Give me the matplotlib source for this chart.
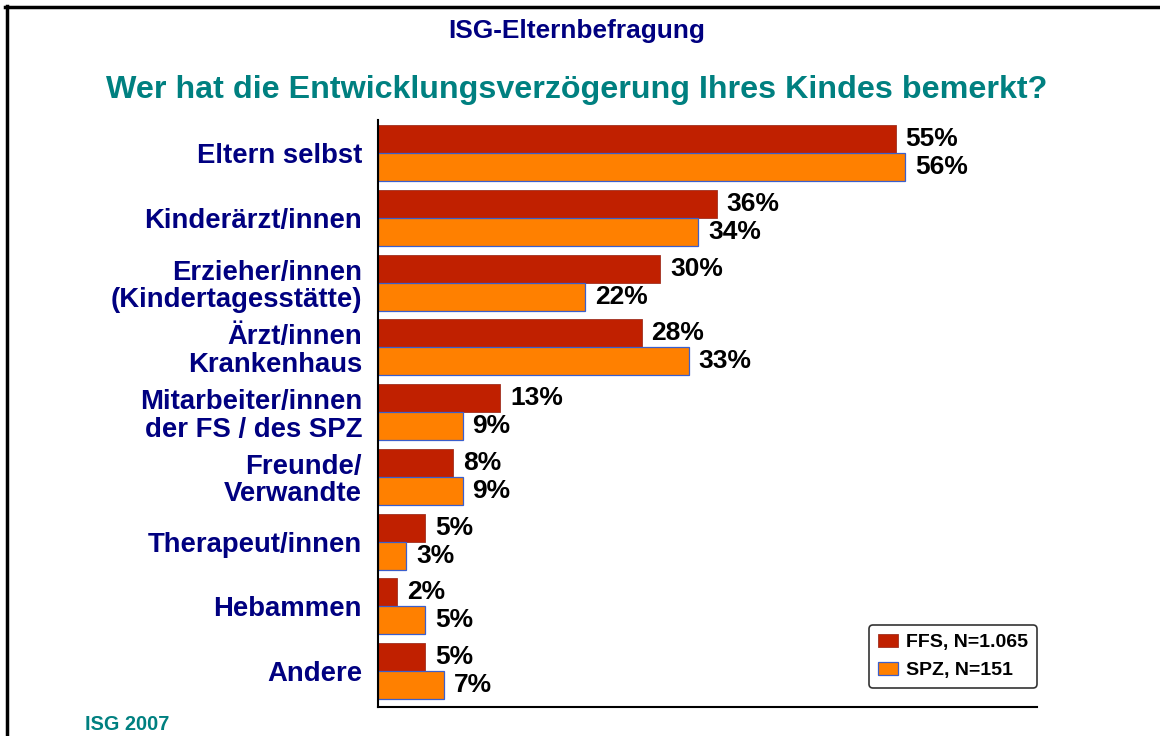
import matplotlib

matplotlib.use("Agg")

import matplotlib.pyplot as plt
from matplotlib.lines import Line2D

categories = [
    "Eltern selbst",
    "Kinderärzt/innen",
    "Erzieher/innen\n(Kindertagesstätte)",
    "Ärzt/innen\nKrankenhaus",
    "Mitarbeiter/innen\nder FS / des SPZ",
    "Freunde/\nVerwandte",
    "Therapeut/innen",
    "Hebammen",
    "Andere",
]
ffs_values = [55, 36, 30, 28, 13, 8, 5, 2, 5]
spz_values = [56, 34, 22, 33, 9, 9, 3, 5, 7]
series_labels = ["FFS, N=1.065", "SPZ, N=151"]

RED = "#c02000"
ORANGE = "#ff8000"
NAVY = "#000080"
TEAL = "#008080"

plt.rcParams["font.family"] = ["Liberation Sans", "DejaVu Sans"]

W, H = 1160, 736
fig = plt.figure(figsize=(W / 100, H / 100), dpi=100)
ax = fig.add_axes([378 / W, 1 - 707 / H, (1037 - 378) / W, (707 - 120) / H])

bar_h = 0.4324
ys = list(range(len(categories)))
ax.barh([y - bar_h / 2 for y in ys], ffs_values, height=bar_h, color=RED,
        edgecolor="#a03020", linewidth=0.6, label=series_labels[0])
ax.barh([y + bar_h / 2 for y in ys], spz_values, height=bar_h, color=ORANGE,
        edgecolor="#3a5fcd", linewidth=0.9, label=series_labels[1])

for y, v in zip(ys, ffs_values):
    ax.text(v + 1.05, y - bar_h / 2, f"{v}%", va="center", ha="left",
            fontsize=19, fontweight="bold", color="black")
for y, v in zip(ys, spz_values):
    ax.text(v + 1.05, y + bar_h / 2, f"{v}%", va="center", ha="left",
            fontsize=19, fontweight="bold", color="black")

ax.set_xlim(0, 70)
ax.set_ylim(8.556, -0.51)
ax.set_yticks(ys)
ax.set_yticklabels(categories, fontsize=19.8, fontweight="bold", color=NAVY,
                   linespacing=1.08)
ax.tick_params(axis="y", length=0, pad=11.5)
ax.set_xticks([])
for s in ["top", "right"]:
    ax.spines[s].set_visible(False)
ax.spines["left"].set_linewidth(1.5)
ax.spines["bottom"].set_linewidth(1.5)

leg = ax.legend(loc="lower right", bbox_to_anchor=(1.0, 0.032), frameon=True,
                fancybox=True, edgecolor="black", borderaxespad=0,
                prop={"weight": "bold", "size": 14}, handlelength=1.0,
                handleheight=0.65, handletextpad=0.45, labelspacing=0.55,
                borderpad=0.45)
leg.get_frame().set_linewidth(1.2)

fig.text(577 / W, 1 - 31 / H, "ISG-Elternbefragung", ha="center", va="center",
         fontsize=18.9, fontweight="bold", color=NAVY)
fig.text(577 / W, 1 - 90 / H, "Wer hat die Entwicklungsverzögerung Ihres Kindes bemerkt?",
         ha="center", va="center", fontsize=23.2, fontweight="bold", color=TEAL)
fig.text(85 / W, 1 - 725 / H, "ISG 2007", ha="left", va="center",
         fontsize=14.3, fontweight="bold", color=TEAL)

# frame lines at top and left
fig.add_artist(Line2D([5 / W, 1], [1 - 7 / H, 1 - 7 / H], color="black", linewidth=2.5,
                      transform=fig.transFigure))
fig.add_artist(Line2D([7 / W, 7 / W], [0, 1 - 6 / H], color="black", linewidth=2.5,
                      transform=fig.transFigure))

fig.savefig("out.png", dpi=100)
